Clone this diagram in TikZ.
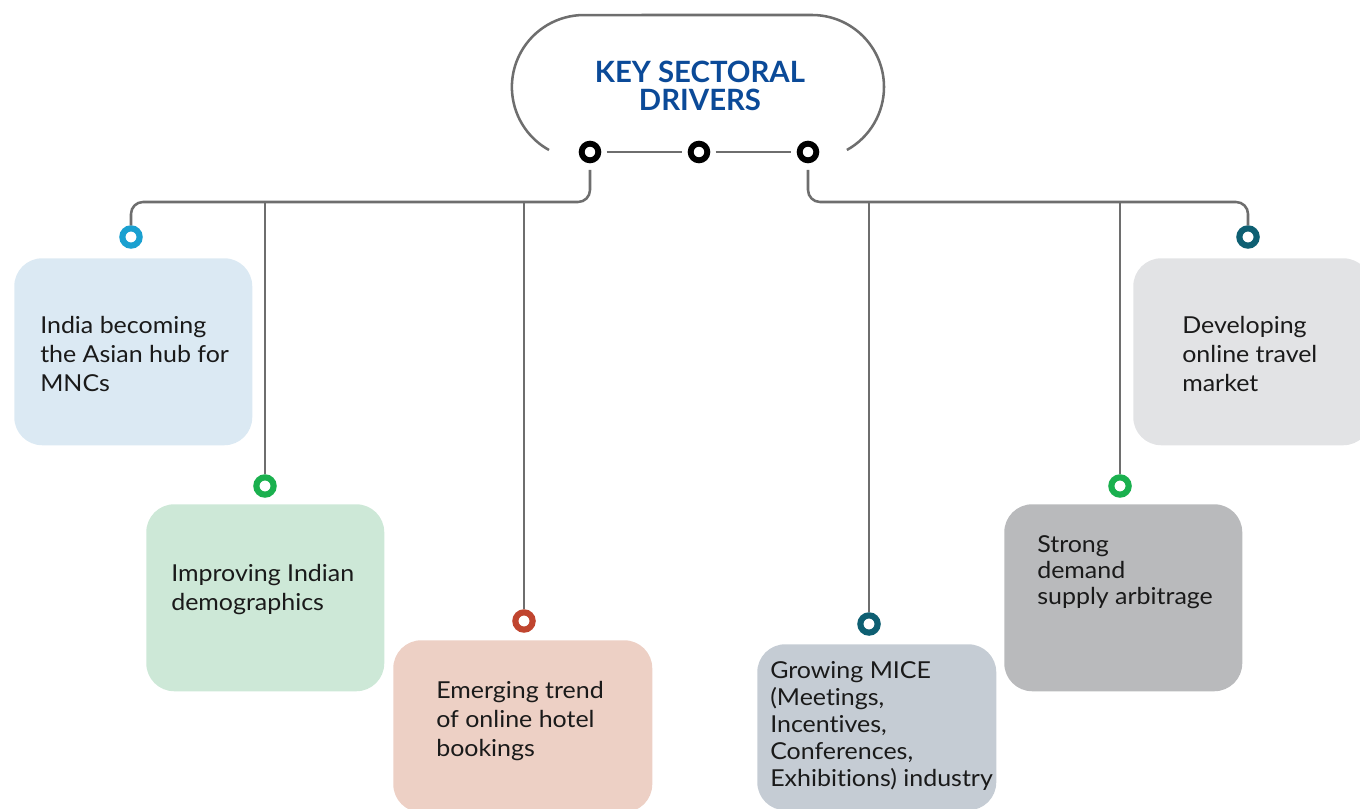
\documentclass[tikz,border=0pt]{standalone}
\usepackage{fontspec}
\setmainfont{Lato}[Ligatures=NoCommon]
\newfontfamily\cardfont{Lato}[FakeStretch=1.07, Ligatures=NoCommon]
\definecolor{linegray}{HTML}{6E6E6E}
\definecolor{titleblue}{HTML}{0B4A98}
\definecolor{cblue}{HTML}{1AA0D0}
\definecolor{cgreen}{HTML}{1AB04E}
\definecolor{cred}{HTML}{C0452F}
\definecolor{cteal}{HTML}{0E5F72}
\definecolor{fblue}{HTML}{DBE9F3}
\definecolor{fgreen}{HTML}{CDE8D7}
\definecolor{fred}{HTML}{EDD0C5}
\definecolor{fslate}{HTML}{C5CCD4}
\definecolor{fgray}{HTML}{B9BABC}
\definecolor{flight}{HTML}{E2E3E5}
\definecolor{txt}{HTML}{1A1A1A}
\tikzset{
  conn/.style={draw=linegray, line width=1.9pt, rounded corners=9pt},
  blackring/.style={circle, draw=black, line width=4.4pt, fill=white, inner sep=0pt, minimum size=12.5pt},
  colring/.style={circle, draw=#1, line width=4.6pt, fill=white, inner sep=0pt, minimum size=13pt},
  card/.style={rounded corners=21pt, fill=#1, draw=none, inner sep=0pt},
  cardtext/.style={anchor=west, align=left, inner sep=0pt, text=txt, font=\cardfont\fontsize{17.5}{21.75}\selectfont},
}
\begin{document}
\begin{tikzpicture}[x=0.75pt, y=-0.75pt]
\useasboundingbox (0,0) rectangle (1360,809);
\clip (0,0) rectangle (1360,809);
% header
\draw[draw=linegray, line width=1.9pt] (549,150) arc[start angle=119, end angle=270, radius=72] -- (812,15) arc[start angle=270, end angle=421, radius=72];
\node[font=\fontsize{22}{22}\bfseries\selectfont, text=titleblue, align=center] (title) at (700,86) {KEY SECTORAL\\[-1pt]DRIVERS};
\node[blackring] (rl) at (590,152) {};
\node[blackring] (rm) at (699,152) {};
\node[blackring] (rr) at (808,152) {};
\draw[draw=linegray, line width=1.9pt] ([xshift=4pt]rl.east) -- ([xshift=-4pt]rm.west);
\draw[draw=linegray, line width=1.9pt] ([xshift=4pt]rm.east) -- ([xshift=-4pt]rr.west);
% cards
\node[card=fblue, minimum width=178.5pt, minimum height=140.25pt, anchor=north west] (c1) at (14,258) {};
\node[card=fgreen, minimum width=178.5pt, minimum height=140.25pt, anchor=north west] (c2) at (146,504) {};
\node[card=fred, minimum width=194.25pt, minimum height=129pt, anchor=north west] (c3) at (393,640) {};
\node[card=fslate, minimum width=179.25pt, minimum height=124.5pt, anchor=north west] (c4) at (757,644) {};
\node[card=fgray, minimum width=178.5pt, minimum height=140.25pt, anchor=north west] (c5) at (1004,504) {};
\node[card=flight, minimum width=178.5pt, minimum height=140.25pt, anchor=north west] (c6) at (1133,258) {};
% texts
\node[cardtext] (t1) at (40,354) {India becoming\\the Asian hub for\\MNCs};
\node[cardtext] (t2) at (171,590) {Improving Indian\\demographics};
\node[cardtext] (t3) at (436,721) {Emerging trend\\of online hotel\\bookings};
\node[cardtext, font=\cardfont\fontsize{17.5}{20.25}\selectfont] (t4) at (770,726) {Growing MICE\\(Meetings,\\Incentives,\\Conferences,\\Exhibitions) industry};
\node[cardtext, font=\cardfont\fontsize{17.5}{19.5}\selectfont] (t5) at (1037,572) {Strong\\demand\\supply arbitrage};
\node[cardtext] (t6) at (1182,354) {Developing\\online travel\\market};
% rings
\node[colring=cblue] (k1) at (131,237) {};
\node[colring=cgreen] (k2) at (265,486) {};
\node[colring=cred] (k3) at (524,621) {};
\node[colring=cteal] (k4) at (869,624) {};
\node[colring=cgreen] (k5) at (1120,486) {};
\node[colring=cteal] (k6) at (1248,237) {};
% connectors
\coordinate (jl) at (590,202);
\coordinate (jr) at (808,202);
\coordinate (h1) at (131,202);
\coordinate (h2) at (265,202);
\coordinate (h3) at (524,202);
\coordinate (h4) at (869,202);
\coordinate (h5) at (1120,202);
\coordinate (h6) at (1248,202);
\draw[conn] ([yshift=-5pt]rl.south) -- (jl) -- (h1) -- (k1.north);
\draw[conn] ([yshift=-5pt]rr.south) -- (jr) -- (h6) -- (k6.north);
\draw[conn] (h2) -- (k2.north);
\draw[conn] (h3) -- (k3.north);
\draw[conn] (h4) -- (k4.north);
\draw[conn] (h5) -- (k5.north);
\end{tikzpicture}
\end{document}
